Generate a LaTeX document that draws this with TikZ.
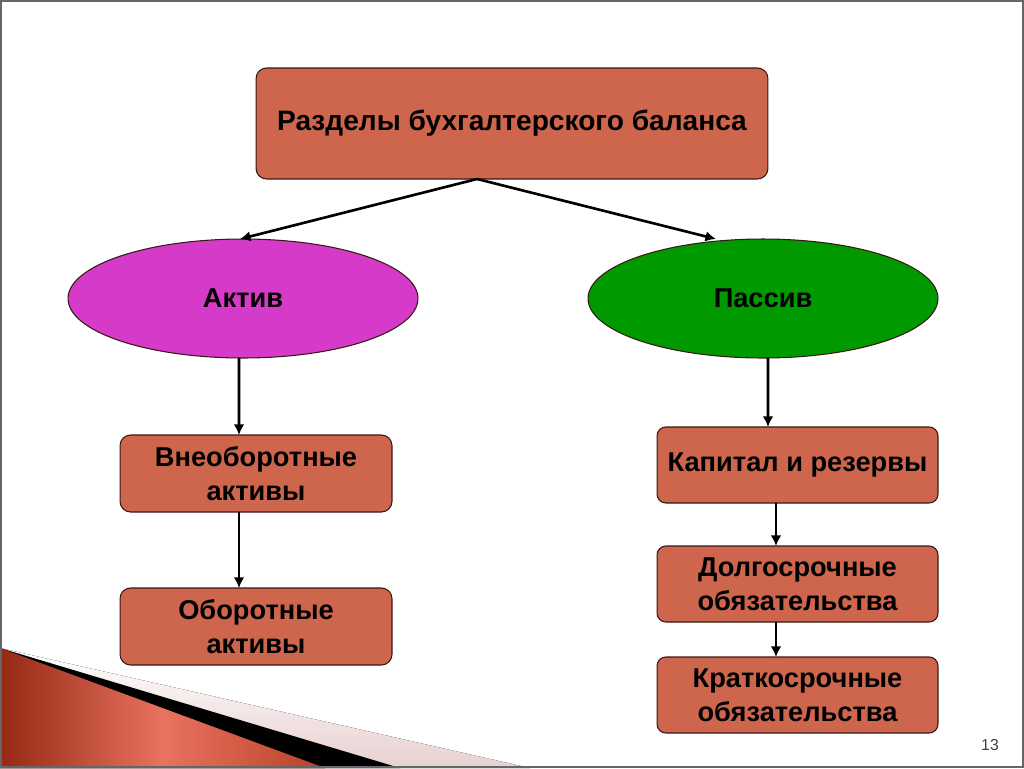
\documentclass[tikz,border=0pt]{standalone}
\usepackage{fontspec}
\setmainfont{Liberation Sans}
\usetikzlibrary{arrows.meta,calc,shapes.geometric}
\usepackage{tkz-euclide}
\definecolor{BoxClr}{RGB}{205,102,77}
\definecolor{AktivClr}{RGB}{214,58,200}
\definecolor{PassivClr}{RGB}{0,153,0}
\definecolor{EdgeClr}{RGB}{55,25,20}
\definecolor{RibbonDark}{RGB}{150,40,20}
\definecolor{RibbonLight}{RGB}{232,115,95}
\definecolor{RibbonMid}{RGB}{185,65,40}
\definecolor{PinkClr}{RGB}{232,208,208}

\begin{document}
\begin{tikzpicture}[x=0.02cm,y=-0.02cm,
  block/.style={draw=EdgeClr,fill=BoxClr,rounded corners=6pt,line width=0.6pt,
    inner sep=0pt,outer sep=0pt,align=center,
    font=\bfseries\fontsize{15.5}{19.5}\selectfont},
  oval/.style={ellipse,draw=EdgeClr,line width=0.6pt,inner sep=0pt,outer sep=0pt,
    minimum width=7cm,minimum height=2.38cm,
    font=\bfseries\fontsize{15.5}{19.5}\selectfont},
  link/.style={-{Latex[length=6pt,width=6pt]},line width=1.5pt}]
\useasboundingbox (0,0) rectangle (1024,768);

% ribbon in the lower left corner
\tkzDefPoints{0/648/P,530/768/Q,400/768/R,325/768/S,0/768/O}
\tkzFillPolygon[top color=white,bottom color=PinkClr](P,Q,O)
\tkzFillPolygon[color=black](P,R,O)
\tkzFillPolygon[left color=RibbonDark,right color=RibbonMid,middle color=RibbonLight](P,S,O)

% boxes
\node[block,minimum width=10.24cm,minimum height=2.22cm] (sections) at (512,123.5)
  {\fontsize{16}{19}\selectfont Разделы бухгалтерского баланса};
\node[oval,fill=AktivClr] (aktiv) at (243,298.5) {Актив};
\node[oval,fill=PassivClr] (passiv) at (763,298.5) {Пассив};

\node[block,minimum width=5.44cm,minimum height=1.54cm] (vneob) at (256,473.5)
  {Внеоборотные\\активы};
\node[block,minimum width=5.44cm,minimum height=1.54cm] (oborot) at (256,626.5)
  {Оборотные\\активы};

\node[block,rounded corners=5pt,minimum width=5.62cm,minimum height=1.52cm] (kapital) at (797.5,465)
  {Капитал и резервы};
\node[block,rounded corners=5pt,minimum width=5.62cm,minimum height=1.52cm] (dolg) at (797.5,584)
  {Долгосрочные\\обязательства};
\node[block,rounded corners=5pt,minimum width=5.62cm,minimum height=1.52cm] (kratk) at (797.5,695)
  {Краткосрочные\\обязательства};

% arrows
\draw[link] ([xshift=-0.7cm]sections.south) -- ([xshift=-0.06cm]aktiv.north);
\draw[link] ([xshift=-0.7cm]sections.south) -- ([xshift=-0.94cm]passiv.north);
\draw[link] ([xshift=-0.08cm]aktiv.south) -- ([xshift=-0.34cm]vneob.north);
\draw[link] ([xshift=-0.34cm]vneob.south) -- ([xshift=-0.34cm]oborot.north);
\draw[link] ([xshift=0.1cm]passiv.south) -- ([xshift=-0.59cm]kapital.north);
\draw[link] ([xshift=-0.43cm]kapital.south) -- ([xshift=-0.43cm]dolg.north);
\draw[link] ([xshift=-0.43cm]dolg.south) -- ([xshift=-0.43cm]kratk.north);

\node[text=black!75,font=\fontsize{9}{10}\selectfont] (num) at (990,745) {13};

% frame
\draw[gray!80!black,line width=1.2pt] (1,1) rectangle (1023,767);
\end{tikzpicture}
\end{document}
